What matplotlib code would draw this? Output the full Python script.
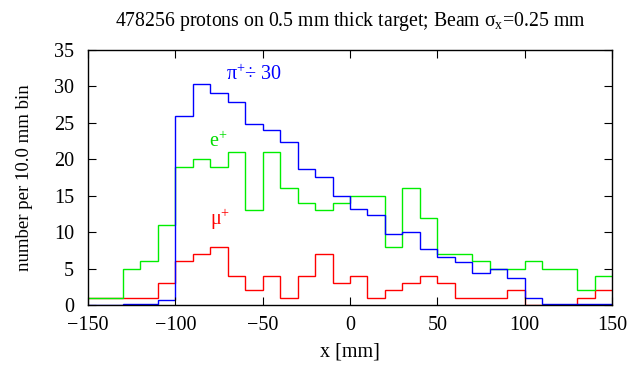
import numpy as np
import matplotlib
matplotlib.use("Agg")
import matplotlib.pyplot as plt

plt.rcParams["font.family"] = ["Liberation Serif", "DejaVu Serif"]
plt.rcParams["mathtext.fontset"] = "custom"
plt.rcParams["mathtext.rm"] = "Liberation Serif"
plt.rcParams["mathtext.it"] = "Liberation Serif:italic"

# 10 mm bins from -150 to 150 mm
bin_edges = np.arange(-150, 151, 10)

# pi+ counts, already divided by 30
pi_plus = [0, 0, 0.1, 0.1, 0.7, 26.0, 30.3, 29.1, 27.8, 24.9,
           24.0, 22.4, 18.6, 17.5, 14.9, 13.2, 12.4, 9.8, 10.0, 7.7,
           6.6, 5.9, 4.4, 5.0, 3.7, 0.9, 0.2, 0.1, 0.2, 0.1]
e_plus = [1, 1, 5, 6, 11, 19, 20, 19, 21, 13,
          21, 16, 14, 13, 14, 15, 15, 8, 16, 12,
          7, 7, 6, 5, 5, 6, 5, 5, 2, 4]
mu_plus = [1, 1, 1, 1, 3, 6, 7, 8, 4, 2,
           4, 1, 4, 7, 3, 4, 1, 2, 3, 4,
           3, 1, 1, 1, 2, 0, 0, 0, 1, 2]

fig = plt.figure(figsize=(6.3, 3.67), dpi=100)
ax = fig.add_axes([0.1397, 0.169, 0.8317, 0.6948])

ax.stairs(mu_plus, bin_edges, baseline=None, color="#ff0000", lw=1.0)
ax.stairs(e_plus, bin_edges, baseline=None, color="#00ee00", lw=1.0)
ax.stairs(pi_plus, bin_edges, baseline=None, color="#0000ff", lw=1.0)

fs = 14.5
ax.text(-71, 30.9, "π$^{+}$÷ 30", color="#0000ff", fontsize=fs)
ax.text(-81, 21.7, "e$^{+}$", color="#00dd00", fontsize=fs)
ax.text(-80, 11.0, "μ$^{+}$", color="#ff0000", fontsize=fs)

ax.set_xlim(-150, 150)
ax.set_ylim(0, 35)
ax.set_xticks(np.arange(-150, 151, 50))
ax.set_yticks(np.arange(0, 36, 5))
ax.tick_params(direction="in", top=True, right=True, length=6, width=0.8,
               labelsize=fs, pad=8)
ax.tick_params(axis="y", pad=10)
ax.set_xticklabels(["\u2212150", "\u2212100", "\u221250", "0", "50", "100", "150"])
for s in ax.spines.values():
    s.set_linewidth(1.0)

ax.set_xlabel("x [mm]", fontsize=fs, labelpad=5)
ax.set_ylabel("number per 10.0 mm bin", fontsize=13.5, labelpad=15)
ax.set_title("478256 protons on 0.5 mm thick target; Beam σ$_{\\mathrm{x}}$=0.25 mm",
             fontsize=14.2, pad=17)

fig.savefig("out.png", dpi=100)
